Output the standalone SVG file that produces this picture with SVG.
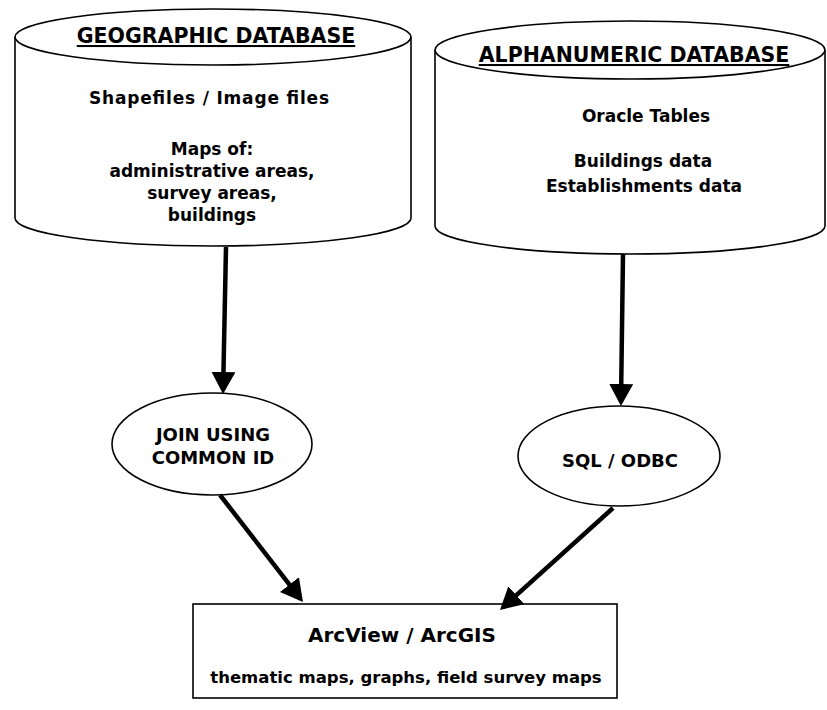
<svg xmlns="http://www.w3.org/2000/svg" width="827" height="710" viewBox="0 0 827 710">
<style>
.shape{fill:#fff;stroke:#000;stroke-width:1.6}
.t{font-family:"DejaVu Sans","Liberation Sans",sans-serif;font-weight:bold;fill:#000;text-anchor:middle}
.h{font-size:20.5px;text-decoration:underline}
.b{font-size:17px}
.n{font-size:18px}
.c{stroke:#000;stroke-width:4.5;fill:none;marker-end:url(#ah)}
</style>
<defs>
<marker id="ah" markerUnits="userSpaceOnUse" markerWidth="24" markerHeight="26" refX="18" refY="12" orient="auto">
<path d="M0,0 L22,12 L0,24 z" fill="#000"/>
</marker>
</defs>
<rect width="827" height="710" fill="#fff"/>
<g id="geo-db">
<path class="shape" d="M15,37 L15,218 A198,28 0 0,0 411,218 L411,37"/>
<ellipse class="shape" cx="213" cy="37" rx="198" ry="28"/>
<text class="t h" x="216" y="43">GEOGRAPHIC DATABASE</text>
<text class="t b" x="209" y="104" textLength="240">Shapefiles / Image files</text>
<text class="t b" x="212" y="155">Maps of:</text>
<text class="t b" x="212" y="177">administrative areas,</text>
<text class="t b" x="212" y="199">survey areas,</text>
<text class="t b" x="212" y="221">buildings</text>
</g>
<g id="alpha-db">
<path class="shape" d="M435,50 L435,226 A195,28 0 0,0 825,226 L825,50"/>
<ellipse class="shape" cx="630" cy="50" rx="195" ry="29"/>
<text class="t h" x="634" y="62">ALPHANUMERIC DATABASE</text>
<text class="t b" x="646" y="122">Oracle Tables</text>
<text class="t b" x="643" y="167">Buildings data</text>
<text class="t b" x="644" y="192">Establishments data</text>
</g>
<g id="join">
<ellipse class="shape" cx="212" cy="444" rx="100" ry="51"/>
<text class="t n" x="213" y="441">JOIN USING</text>
<text class="t n" x="213" y="464">COMMON ID</text>
</g>
<g id="sql">
<ellipse class="shape" cx="619" cy="456" rx="101" ry="50"/>
<text class="t n" x="620" y="467">SQL / ODBC</text>
</g>
<g id="arcgis">
<rect class="shape" x="193" y="604" width="424" height="94"/>
<text class="t" style="font-size:20px" x="402" y="642">ArcView / ArcGIS</text>
<text class="t" style="font-size:16.5px" x="406" y="683">thematic maps, graphs, field survey maps</text>
</g>
<g id="connectors">
<line class="c" x1="226" y1="247" x2="223.1" y2="390"/>
<line class="c" x1="623" y1="254" x2="621" y2="402"/>
<line class="c" x1="220" y1="495" x2="300.5" y2="598.8"/>
<line class="c" x1="613" y1="508" x2="503" y2="607.3"/>
</g>
</svg>
